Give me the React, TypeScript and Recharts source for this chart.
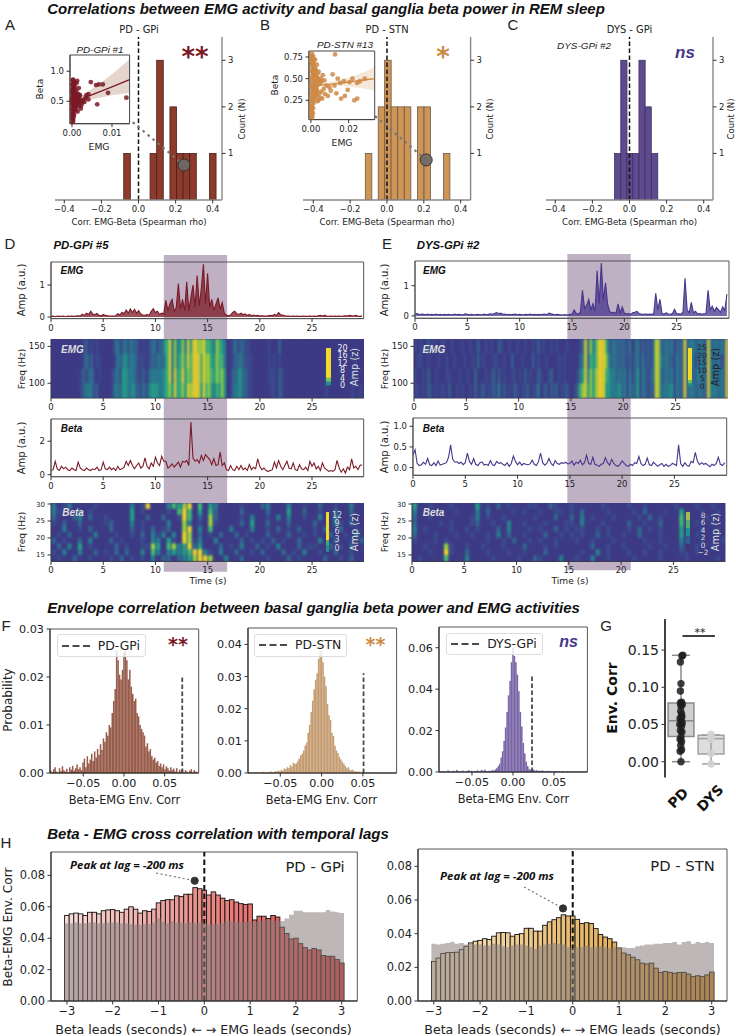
import React from 'react';
import {
  Area,
  Bar,
  BarChart,
  ComposedChart,
  Line,
  ReferenceArea,
  ReferenceDot,
  ReferenceLine,
  Scatter,
  XAxis,
  YAxis,
} from 'recharts';

// ---- panels A-C: correlation histograms
const histPdGpiX = [-0.062, 0.08, 0.1155, 0.187, 0.2225, 0.258, 0.2935, 0.4];
const histPdGpiN = [1, 1, 3, 2, 1, 1, 1, 1];
const histPdStnX = [-0.1, -0.03, 0.005, 0.04, 0.076, 0.112, 0.183, 0.219, 0.324];
const histPdStnN = [1, 2, 3, 2, 2, 2, 2, 2, 1];
const histDysX = [-0.0646, -0.031, 0.002, 0.034, 0.067, 0.1, 0.135];
const histDysN = [1, 3, 1, 1, 3, 2, 1];

// insets: one recording of each group
const insetGpiX = [.0001,.0002,.0003,.0001,.0002,.0004,.0001,.0003,.0002,.0005,.0001,.0004,.0002,.0006,.0003,.0001,.0005,.0002,.0007,.0003,.0001,.0004,.0008,.0002,.0006,.0003,.0009,.0005,.0001,.0011,.0004,.0007,.0002,.0012,.0006,.0015,.0009,.0003,.0013,.0018,.0008,.0011,.0021,.0016,.0025,.0019,.0013,.0028,.0023,.0017,.0031,.0036,.0041,.0034,.0047,.0063,.0067,.0077,.006,.009,.0041,.0136,.0009,.0014,.0022,.0005,.0002,.0004,.0006,.0003,.0008,.0001,.0005,.001,.0007,.0012,.0015,.0002,.0009,.0004,.0017,.0006,.002,.0011,.0003,.0014];
const insetGpiY = [.14,.2,.17,.26,.31,.24,.36,.29,.4,.34,.45,.38,.5,.42,.47,.55,.52,.6,.46,.58,.65,.63,.41,.7,.55,.73,.49,.67,.78,.44,.8,.59,.85,.51,.76,.47,.62,.86,.57,.52,.71,.8,.5,.62,.47,.58,.84,.52,.43,.72,.49,.6,.53,.56,.82,.45,.78,.78,.77,.64,.62,.56,.37,.33,.38,.27,.22,.33,.39,.48,.36,.52,.56,.43,.62,.6,.55,.68,.54,.72,.42,.82,.6,.67,.77,.48];
const insetStnX = [.0003,.0005,.0008,.0002,.0006,.001,.0004,.0012,.0007,.0003,.0009,.0015,.0005,.0011,.0002,.0018,.0008,.0013,.0004,.0021,.0006,.0016,.001,.0025,.0003,.0012,.0019,.0007,.0028,.0014,.0009,.0023,.0005,.0032,.0017,.0011,.0036,.0021,.0008,.004,.0026,.0013,.0045,.003,.0006,.005,.0034,.0018,.0055,.0039,.006,.0046,.0024,.0068,.0052,.0075,.0032,.0082,.0063,.009,.0041,.0098,.0072,.0105,.0125,.0142,.0115,.0135,.0155,.0175,.0195,.018,.016,.0205,.022,.0245,.026,.0285,.0245,.023,.0128,.0015,.001,.0022,.0005,.0002,.0004,.0006,.0008,.0003,.001,.0012,.0005,.0015,.0007,.0018,.0009,.0004,.002,.0011,.0006,.0024,.0014,.0002,.0028,.0017,.0008,.0032,.0021,.0005,.0036,.0012,.0026,.0042,.0016,.0035,.0048,.0022,.0058,.003];
const insetStnY = [.04,.08,.06,.14,.12,.1,.2,.16,.24,.3,.28,.22,.36,.33,.42,.29,.46,.39,.52,.34,.58,.44,.64,.38,.7,.55,.47,.76,.32,.62,.72,.42,.8,.36,.55,.67,.3,.49,.74,.25,.44,.6,.33,.52,.7,.28,.42,.62,.35,.5,.27,.44,.6,.38,.5,.32,.66,.42,.54,.3,.58,.4,.48,.36,.42,.5,.55,.33,.45,.47,.37,.3,.27,.46,.5,.45,.47,.5,.27,.25,.78,.68,.58,.72,.5,.1,.16,.18,.26,.26,.33,.38,.4,.48,.44,.52,.5,.6,.56,.58,.66,.6,.66,.75,.52,.72,.68,.46,.62,.74,.56,.76,.36,.48,.32,.24,.45,.27,.47,.38];
const fitGpiX = [0, 0.002, 0.004, 0.007, 0.01, 0.0144];
const fitGpiY = [0.47, 0.52, 0.58, 0.66, 0.74, 0.86];
const fitGpiLo = [0.44, 0.49, 0.52, 0.56, 0.6, 0.64];
const fitGpiHi = [0.5, 0.56, 0.66, 0.8, 0.95, 1.2];
const fitStnX = [0, 0.005, 0.012, 0.02, 0.03, 0.034];
const fitStnY = [0.41, 0.425, 0.44, 0.46, 0.49, 0.5];
const fitStnLo = [0.39, 0.41, 0.42, 0.41, 0.38, 0.36];
const fitStnHi = [0.43, 0.44, 0.47, 0.51, 0.59, 0.64];

// ---- panels D, E: traces sampled every 0.2 s
const emgPd = [
  .02,.03,.01,.03,.02,.02,.03,.01,.03,.02,.03,.02,.03,.04,.03,
  .09,.05,.12,.08,.18,.09,.07,.11,.05,.03,.08,.05,.04,.03,.03,
  .03,.04,.1,.06,.15,.1,.22,.12,.25,.14,.24,.12,.2,.09,.06,
  .05,.08,.05,.18,.26,.14,.18,.08,.12,.1,.52,.2,.42,.55,.18,
  .3,1.05,.25,.55,.2,1.1,.2,.6,1,.3,1.3,.35,.9,1.65,.4,
  1.37,.3,.55,.2,.4,.6,.25,.45,.12,.06,.03,.06,.14,.18,.1,
  .08,.12,.07,.1,.05,.08,.04,.06,.04,.05,.03,.04,.03,.03,.04,
  .05,.04,.08,.05,.14,.07,.06,.04,.03,.03,.02,.03,.02,.03,.02,
  .02,.03,.02,.02,.03,.02,.03,.02,.04,.05,.03,.05,.03,.02,.03,
  .02,.03,.02,.03,.02,.03,.04,.03,.05,.04,.03,.05,.03,.02,.03,
];
const emgDys = [
  .05,.08,.04,.06,.05,.04,.06,.04,.05,.04,.06,.04,.05,.04,.05,
  .04,.05,.04,.04,.06,.04,.05,.04,.04,.07,.05,.04,.05,.04,.04,
  .05,.04,.04,.06,.04,.05,.07,.05,.08,.11,.07,.09,.05,.06,.04,
  .05,.04,.05,.06,.04,.05,.04,.04,.05,.04,.06,.04,.05,.04,.05,
  .04,.05,.06,.04,.09,.07,.05,.04,.05,.04,.03,.04,.04,.03,.05,
  .05,.2,.08,.06,.12,.85,.25,.35,.55,.2,.4,.15,1.5,.4,1.75,
  .5,1.1,.4,.15,.1,.12,.08,.4,.1,.3,.1,.06,.08,.05,.1,
  .12,.15,.08,.06,.05,.06,.05,.05,.06,.05,.75,.2,.55,.08,.06,
  .1,.06,.05,.08,.22,.06,.07,.06,.12,1.25,.2,.1,.45,.1,.15,
  .06,.08,.05,.07,.08,.85,.2,.32,.15,.28,.2,.12,.3,.18,.72,
];
const betaPd = [
  .25,.3,.8,.35,.25,.5,.35,.45,.3,.25,.4,.3,.25,.75,.4,
  .3,.25,.4,.3,.25,.35,.3,.45,.25,.3,.75,.35,.3,.45,.3,
  .4,.25,.5,.3,.35,.45,.8,.55,.85,.55,.35,.55,.7,.4,.5,
  1,.5,.35,.7,.5,1.05,.7,.55,1.1,.8,.8,.4,.5,.65,.45,
  .6,.75,.45,.8,.75,.85,.55,3.15,1,.8,.9,.7,1.15,.85,1.2,
  1.05,.9,.6,.95,.55,.6,1.35,.55,.7,.3,.25,.55,.3,.25,.5,
  .3,.55,.3,.4,.25,.6,.3,.45,.35,.95,.5,.3,.4,.25,.2,
  .25,.3,.75,.4,.85,.5,.3,.55,.8,.4,.35,.7,.3,.25,.6,
  .35,.3,.45,.25,.8,.5,.7,.35,.5,.25,.7,.4,.3,.2,.25,
  .2,.3,.85,.4,.15,.35,.1,.45,.3,.95,.4,.5,.3,.55,.6,
];
const betaDys = [
  .3,.43,.1,.05,.07,.13,.08,.22,.07,.05,.12,.05,.16,.06,.08,
  .1,.12,.25,.55,.2,.13,.14,.1,.13,.07,.12,.35,.15,.08,.22,
  .08,.05,.12,.14,.06,.08,.05,.17,.07,.05,.15,.1,.12,.08,.05,
  .12,.03,.1,.28,.15,.07,.13,.06,.1,.08,.07,.09,.18,.08,.05,
  .15,.35,.12,.06,.1,.22,.1,.05,.17,.1,.08,.12,.1,.13,.09,
  .1,.16,.06,.13,.1,.18,.07,.12,.3,.1,.08,.25,.08,.06,.03,
  .08,.1,.24,.12,.06,.2,.1,.05,.03,.08,.16,.1,.05,.03,.08,
  .05,.12,.1,.27,.1,.05,.08,.23,.07,.05,.13,.08,.03,.07,.1,
  .03,.08,.03,.05,.1,.08,.05,.55,.1,.03,.12,.05,.03,.15,.12,
  .37,.15,.07,.12,.08,.1,.06,.02,.08,.05,.1,.25,.08,.05,.12,
];

// spectrograms: a digit is the colour level of one cell, a string is one frequency row
const emgFreqs = [150, 130, 110, 90];
const emgSpecPd = [
  '000000000000120101000000231231322101012312245736346374776675543654300131221100000001000200000000000000000000000000000000',
  '000000000000131201100000132342332111012223235736356475777576644655300122321110000001010100000000000000000000000000001000',
  '000000000001212310100001231443332112023333345737457465777576654656400223422110000001110210000000000000000100000000010000',
  '000000000001233312000001332443342213134443345647456476777475643546400233422110000000110210000000000000000100000000010010',
];
const emgSpecDys = [
  '101002010011001000100100200101002100100100100102010010100010000127263577752232222130231212137622323122272332232273232327',
  '011001000100100100010010201000110010020001000201001000010100000237254577763232222121231312137632322132272331232273223127',
  '100102001000110001001002000101202010011010201002100120010100001347364677754332323131241321237622323132272322332273232327',
  '110102101011020010100102012011213020102101120113012021201120012567464677744333423132241321227623334132272332232273332327',
];
const betaFreqs = [29.4, 27.7, 26, 24.3, 22.6, 20.9, 19.2, 17.5, 15.8, 14];
const betaSpecPd = [
  '301300001000000301700035467050430000100023000300100200100300',
  '310002010000000401000010575040520000200002000400200100200200',
  '200023020010000400200200175020620000103001030300100300300100',
  '102002000012000301000030063010610000204002000200002000310200',
  '003001020002000201020120067030500030003001020102001020020010',
  '010200003000100102031303076020102002010002000200101002001030',
  '201002030002010001033041076130030000201010201002000300200102',
  '020304010000201001164056347240002010300201030002011002010200',
  '103003002010202003053034345773103002001020002010300100200100',
  '010020010001020101030220234677600300200001000201000020010200',
];
const betaSpecDys = [
  '400100010000401020100011002100100000100001001000001000100100',
  '300010001000302000010100100110102000010000102000100400010010',
  '200100000001301001000001000200203010001000010201000510001000',
  '200001010001200100300100010001103000100002001002000510100100',
  '301000010010100020300010100201011001010001020101000400010010',
  '200010001001001030200100020010101002010010020001000410100010',
  '100010100000001001020010100100010010001000001001000310010001',
  '001000610010010001000200010100000020010010000100100200100100',
  '000100710020001000100100020000001003010001001001000110100000',
  '010000500030000100001002100030010030010000100001000010000010',
];
const heatPalette = ['#3d3a85', '#3a4c8d', '#31688e', '#26828e', '#21a585', '#44bf70', '#9bd93c', '#f2dd26'];

// colour bars drawn over the spectrograms, bottom to top
const barEmgPd = [2, 2, 16];
const barEmgPdColors = ['#21908c', '#6cc35c', '#f2dd26'];
const barBetaPd = [2, 1.5, 8.5];
const barBetaPdColors = ['#21908c', '#35b07a', '#f2dd26'];
const barEmgDys = [2, 2, 21];
const barEmgDysColors = ['#21908c', '#6cc35c', '#f2dd26'];
const barBetaDys = [2, 2, 2, 2, 2];
const barBetaDysColors = ['#3a3a78', '#2f5f8e', '#21908c', '#4fae6a', '#a0c24a'];

// ---- panel F: surrogate histograms, in units of 1e-4, bin width 0.0018 from -0.09
const surrPdGpi = [
  5,0,8,12,3,0,10,4,14,6,3,9,0,12,7,15,5,10,18,8,12,6,22,
  30,12,35,20,28,40,25,45,32,50,38,60,48,72,65,85,78,100,95,
  125,150,175,255,235,205,195,215,250,255,235,195,215,180,165,150,155,125,118,
  100,92,85,78,55,62,45,50,35,28,32,22,25,15,20,12,18,8,14,10,5,12,6,9,3,10,0,7,4,8,0,6,3,0,5,8,0,6,3,0,
];
const surrPdStn = [
  0,0,1,0,2,0,1,3,0,2,1,4,0,2,3,1,5,2,3,6,4,8,5,
  10,7,14,12,18,15,25,20,32,28,30,38,45,55,60,70,85,95,
  125,150,190,225,260,290,310,355,405,380,345,300,270,215,180,165,125,115,85,
  70,62,50,42,35,28,22,15,18,10,8,10,5,6,3,5,2,4,1,3,1,2,0,3,1,0,2,1,0,2,0,1,0,1,0,0,0,0,0,0,
];
const surrDys = [
  0,3,0,5,1,0,8,2,0,4,6,0,10,3,0,2,7,0,1,5,9,2,6,
  0,4,3,8,2,6,10,4,12,5,4,6,5,9,7,12,18,28,40,
  70,100,150,215,290,370,440,530,600,560,530,470,390,290,220,140,90,50,28,
  15,10,8,12,6,9,5,7,4,8,3,5,2,6,3,4,1,3,5,1,3,0,2,4,1,0,3,1,0,2,0,1,2,0,1,0,1,0,0,1,
];

// ---- panel G: recordings per group
const gPdY = [.143,.142,.134,.105,.095,.08,.079,.077,.075,.068,.064,.06,.058,.055,.052,.05,.048,.042,.04,.033,.03,.027,.022,.016,.014,0];
const gPdJitter = [1.06,1.03,.98,1,.98,1.02,.98,1.04,1,.99,1.02,1.03,.97,1,1.04,.96,1.02,.98,1.03,1,.97,1.02,.99,1.02,.97,1];
const gDysY = [.037, .033, .03, .011, -.003];
const gPdBox = { lo: 0, q1: .034, med: .055, q3: .0788, hi: .143 };
const gDysBox = { lo: -.003, q1: .0103, med: .031, q3: .0354, hi: .036 };

// ---- panel H: cross correlation by lag
const lags = [-3,-2.9,-2.8,-2.7,-2.6,-2.5,-2.4,-2.3,-2.2,-2.1,-2,-1.9,-1.8,-1.7,-1.6,-1.5,-1.4,-1.3,-1.2,-1.1,-1,-.9,-.8,-.7,-.6,-.5,-.4,-.3,-.2,-.1,0,.1,.2,.3,.4,.5,.6,.7,.8,.9,1,1.1,1.2,1.3,1.4,1.5,1.6,1.7,1.8,1.9,2,2.1,2.2,2.3,2.4,2.5,2.6,2.7,2.8,2.9,3];
const lagGpi = [
  .0545,.0555,.056,.0555,.0545,.0565,.0565,.0555,.0575,.058,
  .0582,.0575,.0565,.0585,.06,.0585,.056,.0575,.057,.0585,
  .0625,.064,.0645,.0645,.067,.0665,.068,.068,.0722,.0715,
  .0705,.0675,.0695,.0675,.0655,.064,.0645,.063,.062,.0615,
  .0618,.0516,.054,.054,.0525,.0545,.0535,.047,.043,.0395,
  .04,.0365,.034,.0325,.0335,.0325,.029,.0285,.0285,.0265,.0242,
];
const lagGpiSurr = [
  .0495,.0495,.05,.0495,.0495,.05,.05,.0495,.0495,.05,
  .05,.05,.0495,.0495,.049,.0485,.0485,.049,.049,.05,
  .0525,.0505,.0495,.051,.05,.05,.0495,.05,.0495,.05,
  .0495,.0485,.049,.049,.0495,.051,.051,.0505,.05,.0505,
  .051,.0505,.051,.0515,.052,.0515,.051,.051,.0525,.055,
  .0575,.0575,.0565,.0565,.0565,.0565,.0565,.058,.057,.0565,.056,
];
const lagStn = [
  .0235,.0255,.0282,.0287,.0288,.029,.0305,.0325,.0345,.0355,
  .036,.037,.0365,.0385,.0405,.0407,.0405,.0385,.0395,.04,
  .0432,.0432,.0415,.0415,.045,.047,.0483,.0495,.0512,.0505,
  .0505,.0485,.046,.0465,.046,.043,.0395,.038,.037,.035,
  .0315,.0285,.0275,.026,.0245,.0225,.022,.0225,.0195,.017,
  .0175,.017,.0165,.017,.017,.016,.0145,.015,.0145,.0155,.0172,
];
const lagStnSurr = [
  .034,.0335,.034,.0345,.035,.034,.0345,.0335,.034,.0335,
  .0335,.033,.033,.034,.0335,.0325,.032,.033,.0335,.0335,
  .033,.032,.031,.033,.0335,.034,.0345,.034,.0335,.032,
  .0315,.032,.032,.033,.032,.032,.0325,.032,.0315,.032,
  .0315,.032,.0315,.0315,.0325,.033,.0335,.0335,.034,.034,
  .0345,.0345,.035,.0335,.035,.0355,.034,.035,.0345,.035,.0345,
];

const MAROON = '#7a1a26';
const ORANGE = '#cc8a46';
const INDIGO = '#46368c';
const SPINE = '#555';
const ARIAL = '"Liberation Sans", Arial, sans-serif';

const zip = (xs: number[], ys: number[]) => xs.map((x, i) => ({ x, y: ys[i] }));
const traceData = (vals: number[]) => vals.map((y, i) => ({ x: i * 0.2, y }));
const surrData = (vals: number[]) => vals.map((v, i) => ({ x: -0.09 + i * 0.0018, y: v / 10000 }));
const heatCells = (rows: string[], freqs: number[], step: number) =>
  rows.flatMap((row, r) => row.split('').map((c, i) => ({ x: (i + 0.5) * step, y: freqs[r], level: +c })));
const minusFmt = (d: number) => (v: number) => v.toFixed(d).replace('-', '\u2212');
const intFmt = (v: number) => String(v).replace('-', '\u2212');

const mix = (a: string, b: string, t: number) => {
  const ch = (h: string, i: number) => parseInt(h.slice(1 + i * 2, 3 + i * 2), 16);
  const out = [0, 1, 2].map((i) => Math.round(ch(a, i) + (ch(b, i) - ch(a, i)) * t));
  return `rgb(${out.join(',')})`;
};

// bars keep the scale's centre and height, the bin width is given in pixels
const binShape = (binPx: number, fill: any, stroke?: string, strokeWidth = 0, fillOpacity = 1) => (p: any) => (
  <rect
    x={p.x + p.width / 2 - binPx / 2}
    y={p.y}
    width={binPx}
    height={Math.max(p.height, 0)}
    fill={typeof fill === 'function' ? fill(p.payload) : fill}
    fillOpacity={fillOpacity}
    stroke={stroke}
    strokeWidth={strokeWidth}
  />
);

const PAD_L = 46;
const PAD_R = 30;
const PAD_T = 6;
const PAD_B = 24;

const Plot = ({
  x, y, w, h, xDomain, yDomain, xTicks, yTicks, xFmt, yFmt,
  xSize = 8.5, ySize = 8.5, yRight = false, frame, axisColor = SPINE, axisWidth = 1, noBottom = false, data, children,
}: any) => (
  <div style={{ position: 'absolute', left: x - PAD_L, top: y - PAD_T }}>
    <ComposedChart
      width={w + PAD_L + PAD_R}
      height={h + PAD_T + PAD_B}
      data={data}
      margin={{ top: PAD_T, right: yRight ? 0 : PAD_R, bottom: 0, left: yRight ? PAD_L : 0 }}
    >
      <XAxis
        type="number"
        dataKey="x"
        domain={xDomain}
        allowDataOverflow
        ticks={xTicks}
        interval={0}
        height={PAD_B}
        tickFormatter={xFmt}
        tick={xTicks ? { fontSize: xSize, fill: '#222' } : false}
        tickLine={xTicks ? { stroke: '#333' } : false}
        tickSize={3.5}
        tickMargin={2.5}
        axisLine={noBottom ? false : { stroke: axisColor, strokeWidth: axisWidth }}
      />
      <YAxis
        type="number"
        dataKey="y"
        orientation={yRight ? 'right' : 'left'}
        domain={yDomain}
        allowDataOverflow
        ticks={yTicks}
        interval={0}
        width={yRight ? PAD_R : PAD_L}
        tickFormatter={yFmt}
        tick={yTicks ? { fontSize: ySize, fill: '#222' } : false}
        tickLine={yTicks ? { stroke: '#333' } : false}
        tickSize={3.5}
        tickMargin={2.5}
        axisLine={{ stroke: axisColor, strokeWidth: axisWidth }}
      />
      {children}
      {frame && (
        <ReferenceArea
          x1={xDomain[0]} x2={xDomain[1]} y1={yDomain[0]} y2={yDomain[1]}
          fill="none" stroke={frame} strokeWidth={1} ifOverflow="visible"
        />
      )}
    </ComposedChart>
  </div>
);

const Txt = ({ x, y, children, size = 8.4, rot = 0, color = '#222', bold = false, italic = false, font }: any) => (
  <div
    style={{
      position: 'absolute', left: x, top: y, transform: `translate(-50%,-50%) rotate(${rot}deg)`,
      fontSize: size, color, whiteSpace: 'nowrap', lineHeight: 1,
      fontWeight: bold ? 700 : 400, fontStyle: italic ? 'italic' : 'normal', fontFamily: font,
    }}
  >
    {children}
  </div>
);

const Stars = ({ x, y, n, color, size = 26 }: any) => (
  <Txt x={x} y={y + size * 0.16} size={size} color={color} bold font='"DejaVu Sans"'>{'*'.repeat(n)}</Txt>
);

const CorrHist = ({ x, w, xs, ns, binPx, fill, edge, point, domain }: any) => (
  <Plot
    x={x} y={37} w={w} h={163} yRight data={zip(xs, ns)}
    xDomain={domain} yDomain={[0, 3.5]} xTicks={[-0.4, -0.2, 0, 0.2, 0.4]} yTicks={[1, 2, 3]}
    xFmt={minusFmt(1)} axisColor="#888" axisWidth={1.4}
  >
    <Bar dataKey="y" shape={binShape(binPx, fill, edge, 0.8)} isAnimationActive={false} />
    <ReferenceLine x={0} stroke="#111" strokeWidth={1.5} strokeDasharray="4.5 2.5" />
    {point && (
      <Line data={point.link} dataKey="y" stroke="#777" strokeWidth={2.2} strokeDasharray="2.5 4" dot={false} isAnimationActive={false} />
    )}
    {point && <ReferenceDot x={point.x} y={point.y} r={6} fill="#6d6a68" fillOpacity={0.9} stroke="#333" />}
  </Plot>
);

const Inset = ({ x, y, w, h, xDomain, yDomain, xTicks, yTicks, xd, yd, points, fit, lo, hi, fitX, color, band }: any) => (
  <Plot
    x={x} y={y} w={w} h={h} xDomain={xDomain} yDomain={yDomain} xTicks={xTicks} yTicks={yTicks}
    xFmt={minusFmt(xd)} yFmt={minusFmt(yd)} frame="#444" axisColor="#444"
  >
    <ReferenceArea x1={xDomain[0]} x2={xDomain[1]} y1={yDomain[0]} y2={yDomain[1]} fill="#fff" fillOpacity={1} />
    <Area
      data={fitX.map((v: number, i: number) => ({ x: v, band: [lo[i], hi[i]] }))}
      dataKey="band" type="linear" stroke="none" fill={band} fillOpacity={0.75} isAnimationActive={false}
    />
    <Scatter
      data={points} isAnimationActive={false}
      shape={(p: any) => <circle cx={p.cx} cy={p.cy} r={2.4} fill={color} fillOpacity={0.85} />}
    />
    <Line data={zip(fitX, fit)} dataKey="y" stroke={color} strokeWidth={1.3} dot={false} isAnimationActive={false} />
  </Plot>
);

const Shade = ({ x, y, w, h, xMax, from, to }: any) => (
  <Plot x={x} y={y} w={w} h={h} xDomain={[0, xMax]} yDomain={[0, 1]} axisColor="none">
    <ReferenceArea x1={from} x2={to} y1={0} y2={1} fill="#bfb0c4" fillOpacity={1} />
  </Plot>
);

const Trace = ({ x, y, w, h, xMax, yDomain, yTicks, yFmt, vals, color, sw = 1.1, filled = false }: any) => (
  <Plot
    x={x} y={y} w={w} h={h} xDomain={[0, xMax]} yDomain={yDomain}
    xTicks={[0, 5, 10, 15, 20, 25]} yTicks={yTicks} yFmt={yFmt} frame={SPINE}
  >
    {filled && (
      <Area data={traceData(vals)} dataKey="y" type="linear" stroke="none" fill={color} fillOpacity={0.75} isAnimationActive={false} />
    )}
    <Line data={traceData(vals)} dataKey="y" stroke={color} strokeWidth={sw} dot={false} isAnimationActive={false} />
  </Plot>
);

const Heat = ({ x, y, w, h, xMax, yDomain, yTicks, rows, freqs, step, rowPx, ySize, narrow = 1 }: any) => {
  const colPx = (w / xMax) * step;
  return (
    <div className="hm">
      <Plot
        x={x} y={y} w={w} h={h} xDomain={[0, xMax]} yDomain={yDomain}
        xTicks={[0, 5, 10, 15, 20, 25]} yTicks={yTicks} ySize={ySize} axisColor="#333"
      >
        <ReferenceArea x1={0} x2={xMax} y1={yDomain[0]} y2={yDomain[1]} fill={heatPalette[0]} fillOpacity={1} />
        <Scatter
          data={heatCells(rows, freqs, step)} isAnimationActive={false}
          shape={(p: any) => (
            <rect
              x={p.cx - (colPx * narrow) / 2} y={p.cy - rowPx / 2} width={colPx * narrow + 0.4} height={rowPx + 0.4}
              fill={heatPalette[p.payload.level]}
            />
          )}
        />
      </Plot>
    </div>
  );
};

const ColorBar = ({ x, y, w, h, segs, colors }: any) => {
  const row: any = { name: 'z' };
  segs.forEach((v: number, i: number) => { row[`s${i}`] = v; });
  const total = segs.reduce((a: number, b: number) => a + b, 0);
  return (
    <div style={{ position: 'absolute', left: x, top: y }}>
      <BarChart width={w} height={h} data={[row]} margin={{ top: 0, right: 0, bottom: 0, left: 0 }} barCategoryGap={0}>
        <XAxis dataKey="name" hide />
        <YAxis hide domain={[0, total]} />
        {segs.map((_: number, i: number) => (
          <Bar key={i} dataKey={`s${i}`} stackId="z" fill={colors[i]} isAnimationActive={false} />
        ))}
      </BarChart>
    </div>
  );
};

const barLabels = (labels: string[], x: number, y0: number, dy: number, color: string, size = 8) =>
  labels.map((t, i) => <Txt key={t + i} x={x} y={y0 + i * dy} size={size} color={color}>{t}</Txt>);

const SurrHist = ({ x, y, w, h, vals, xDomain, yDomain, yTicks, fill, cut, cutTop, name, lx, lw, ly, lh }: any) => (
  <>
    <Plot
      x={x} y={y} w={w} h={h} data={surrData(vals)} xDomain={xDomain} yDomain={yDomain}
      xTicks={[-0.05, 0, 0.05]} yTicks={yTicks} xFmt={minusFmt(2)} yFmt={minusFmt(2)}
      xSize={11.2} ySize={11.2} frame={SPINE} axisColor="#222"
    >
      <Bar dataKey="y" shape={binShape(1.5, fill, undefined, 0, 0.88)} isAnimationActive={false} />
      <Line
        data={[{ x: cut, y: 0 }, { x: cut, y: cutTop }]} dataKey="y"
        stroke="#4a4a4a" strokeWidth={1.8} strokeDasharray="4.5 2.5" dot={false} isAnimationActive={false}
      />
    </Plot>
    <div
      style={{
        position: 'absolute', left: lx, top: ly, width: lw, height: lh, boxSizing: 'border-box',
        background: 'rgba(255,255,255,0.8)', border: '1px solid #ddd', borderRadius: 3,
      }}
    >
      <svg width={30} height={6} style={{ position: 'absolute', left: 4, top: lh / 2 - 4 }}>
        <line x1={0} x2={28} y1={3} y2={3} stroke="#4a4a4a" strokeWidth={1.8} strokeDasharray="7 3.5" />
      </svg>
      <div style={{ position: 'absolute', right: 5, top: lh / 2 - 8, fontSize: 12.4, lineHeight: '14px', color: '#222' }}>{name}</div>
    </div>
  </>
);

const LagHist = ({ x, y, w, h, vals, surr, yDomain, light, strong, dot, from, xDomain }: any) => (
  <Plot
    x={x} y={y} w={w} h={h} data={zip(lags, vals)} xDomain={xDomain} yDomain={yDomain}
    xTicks={[-3, -2, -1, 0, 1, 2, 3]} yTicks={[0, 0.02, 0.04, 0.06, 0.08]} xFmt={intFmt} yFmt={minusFmt(2)}
    xSize={11.4} ySize={11.4} frame={SPINE} axisColor="#222"
  >
    <Bar
      dataKey="y" isAnimationActive={false}
      shape={binShape(4.58, (d: any) => mix(light, strong, (d.x + 3) / 6), '#111', 0.9)}
    />
    <ReferenceLine x={0} stroke="#111" strokeWidth={2} strokeDasharray="5.5 3" />
    <Area
      data={[...surr.map((v: number, i: number) => ({ x: lags[i] - 0.05, y: v })), { x: 3.05, y: surr[surr.length - 1] }]}
      dataKey="y" type="stepAfter" stroke="none" fill="#877c7c" fillOpacity={0.55} zIndex={450} isAnimationActive={false}
    />
    <Line data={[from, dot]} dataKey="y" stroke="#777" strokeWidth={1.2} strokeDasharray="2 2.5" dot={false} isAnimationActive={false} />
    <ReferenceDot x={dot.x} y={dot.y} r={3.6} fill="#333" stroke="#333" />
  </Plot>
);

const BoxGlyph = ({ at, box, edge, fill, half }: any) => [
  <ReferenceLine key="w" segment={[{ x: at, y: box.lo }, { x: at, y: box.hi }]} stroke={edge} strokeWidth={1.5} />,
  <ReferenceLine key="c1" segment={[{ x: at - 0.3, y: box.lo }, { x: at + 0.3, y: box.lo }]} stroke={edge} strokeWidth={1.5} />,
  <ReferenceLine key="c2" segment={[{ x: at - 0.3, y: box.hi }, { x: at + 0.3, y: box.hi }]} stroke={edge} strokeWidth={1.5} />,
  <ReferenceArea key="b" x1={at - half} x2={at + half} y1={box.q1} y2={box.q3} fill={fill} fillOpacity={1} stroke={edge} strokeWidth={1.5} />,
  <ReferenceLine key="m" segment={[{ x: at - half, y: box.med }, { x: at + half, y: box.med }]} stroke={edge} strokeWidth={1.5} />,
];

export default function App() {
  const bi = { bold: true, italic: true, font: ARIAL };
  return (
    <div
      style={{
        position: 'absolute', left: 0, top: 0, width: 736, height: 1036, overflow: 'hidden',
        background: '#fff', fontFamily: '"DejaVu Sans", sans-serif',
      }}
    >
      <style>{'.hm .recharts-scatter{filter:blur(1.1px)}'}</style>

      <Txt x={326} y={7.6} size={15} color="#111" {...bi}>
        Correlations between EMG activity and basal ganglia beta power in REM sleep
      </Txt>
      <Txt x={10} y={24} size={15} font={ARIAL}>A</Txt>
      <Txt x={265} y={24} size={15} font={ARIAL}>B</Txt>
      <Txt x={513} y={24} size={15} font={ARIAL}>C</Txt>

      <CorrHist
        x={55} w={167} xs={histPdGpiX} ns={histPdGpiN} binPx={6.6} fill="#8b3a2b" edge="#4a2018" domain={[-0.45, 0.45]}
        point={{ x: 0.245, y: 0.75, link: [{ x: -0.085, y: 1.85 }, { x: 0.245, y: 0.75 }] }}
      />
      <CorrHist
        x={302.7} w={167.6} xs={histPdStnX} ns={histPdStnN} binPx={6.5} fill="#cf9557" edge="#6b5a45" domain={[-0.456, 0.454]}
        point={{ x: 0.213, y: 0.86, link: [{ x: -0.065, y: 1.8 }, { x: 0.213, y: 0.86 }] }}
      />
      <CorrHist x={545.7} w={167} xs={histDysX} ns={histDysN} binPx={6.2} fill="#5e4a8e" edge="#3d3160" domain={[-0.45, 0.45]} />

      <Inset
        x={69.7} y={55} w={59.6} h={68.7} xDomain={[-0.0005, 0.0144]} yDomain={[0.127, 1.27]}
        xTicks={[0, 0.01]} yTicks={[0.5, 1]} xd={2} yd={1} points={zip(insetGpiX, insetGpiY)}
        fitX={fitGpiX} fit={fitGpiY} lo={fitGpiLo} hi={fitGpiHi} color={MAROON} band="#dcc8bc"
      />
      <Inset
        x={309.3} y={50.7} w={65.7} h={68.6} xDomain={[-0.001, 0.0338]} yDomain={[0.027, 0.819]}
        xTicks={[0, 0.02]} yTicks={[0.25, 0.5, 0.75]} xd={2} yd={2} points={zip(insetStnX, insetStnY)}
        fitX={fitStnX} fit={fitStnY} lo={fitStnLo} hi={fitStnHi} color={ORANGE} band="#f2e0cc"
      />

      <Txt x={139} y={29.5} size={9.9}>PD - GPi</Txt>
      <Txt x={387} y={29.5} size={9.9}>PD - STN</Txt>
      <Txt x={629.5} y={29.5} size={9.9}>DYS - GPi</Txt>
      <Txt x={100} y={50} size={9.9} italic font={ARIAL}>PD-GPi #1</Txt>
      <Txt x={345} y={45} size={9.9} italic font={ARIAL}>PD-STN #13</Txt>
      <Txt x={584} y={45.5} size={9.9} italic font={ARIAL}>DYS-GPi #2</Txt>
      <Txt x={99} y={146.5} size={9.2}>EMG</Txt>
      <Txt x={342} y={142.5} size={9.2}>EMG</Txt>
      <Txt x={40} y={89} size={9} rot={-90}>Beta</Txt>
      <Txt x={274.5} y={85} size={9} rot={-90}>Beta</Txt>
      <Txt x={139} y={221.5} size={8.6}>Corr. EMG-Beta (Spearman rho)</Txt>
      <Txt x={387} y={221.5} size={8.6}>Corr. EMG-Beta (Spearman rho)</Txt>
      <Txt x={629.5} y={221.5} size={8.6}>Corr. EMG-Beta (Spearman rho)</Txt>
      <Txt x={241.5} y={119} size={8.5} rot={-90}>Count (N)</Txt>
      <Txt x={489.5} y={119} size={8.5} rot={-90}>Count (N)</Txt>
      <Txt x={730.5} y={119} size={8.5} rot={-90}>Count (N)</Txt>
      <Stars x={195} y={53} n={2} color={MAROON} />
      <Stars x={443} y={53} n={1} color={ORANGE} />
      <Txt x={685} y={52} size={17} color={INDIGO} {...bi}>ns</Txt>

      {/* panels D, E */}
      <Txt x={10} y={243} size={15} font={ARIAL}>D</Txt>
      <Txt x={387} y={243} size={15} font={ARIAL}>E</Txt>
      <Txt x={81} y={246} size={11.4} color="#111" {...bi}>PD-GPi #5</Txt>
      <Txt x={448} y={246} size={11.4} color="#111" {...bi}>DYS-GPi #2</Txt>

      <Shade x={50.5} y={255} w={313} h={316.7} xMax={29.97} from={10.8} to={16.87} />
      <Shade x={414.7} y={254} w={314} h={316.3} xMax={29.99} from={14.55} to={20.6} />

      <Trace x={50.5} y={261.7} w={312.7} h={56.6} xMax={29.95} yDomain={[-0.05, 1.72]} yTicks={[0, 1]} vals={emgPd} color={MAROON} filled />
      <Heat
        x={51} y={339.3} w={313} h={59} xMax={29.97} yDomain={[80, 160]} yTicks={[100, 150]}
        rows={emgSpecPd} freqs={emgFreqs} step={0.25} rowPx={14.75} narrow={0.75}
      />
      <Trace x={50.5} y={419} w={312.7} h={57.7} xMax={29.95} yDomain={[-0.12, 3.33]} yTicks={[0, 2]} vals={betaPd} color={MAROON} />
      <Heat
        x={51} y={503.3} w={313} h={58.4} xMax={29.97} yDomain={[13.1, 30.3]} yTicks={[15, 20, 25, 30]} ySize={7}
        rows={betaSpecPd} freqs={betaFreqs} step={0.5} rowPx={5.9} narrow={0.7}
      />

      <Trace x={414.7} y={261} w={314} h={57.3} xMax={30} yDomain={[-0.08, 1.82]} yTicks={[0, 1]} vals={emgDys} color={INDIGO} filled />
      <Heat
        x={413.7} y={339.3} w={313.6} h={59} xMax={29.97} yDomain={[80, 160]} yTicks={[100, 150]}
        rows={emgSpecDys} freqs={emgFreqs} step={0.25} rowPx={14.75} narrow={0.75}
      />
      <Trace
        x={413} y={417.7} w={313.7} h={57.3} xMax={30} yDomain={[-0.186, 1.2]} yTicks={[0, 0.5, 1]} yFmt={minusFmt(1)}
        vals={betaDys} color={INDIGO}
      />
      <Heat
        x={412.3} y={503.3} w={313.4} h={58.4} xMax={29.97} yDomain={[13.1, 30.3]} yTicks={[15, 20, 25, 30]} ySize={7}
        rows={betaSpecDys} freqs={betaFreqs} step={0.5} rowPx={5.9} narrow={0.7}
      />

      <ColorBar x={326.3} y={348.3} w={4.7} h={37.4} segs={barEmgPd} colors={barEmgPdColors} />
      <ColorBar x={326.3} y={511.7} w={3.4} h={40} segs={barBetaPd} colors={barBetaPdColors} />
      <ColorBar x={688} y={348.3} w={4.3} h={38.4} segs={barEmgDys} colors={barEmgDysColors} />
      <ColorBar x={686.3} y={511.7} w={3.7} h={40} segs={barBetaDys} colors={barBetaDysColors} />
      {barLabels(['20', '16', '12', '8', '4', '0'], 342.5, 348.5, 7.5, '#eee')}
      {barLabels(['12', '9', '6', '3', '0'], 337, 515.5, 8.3, '#ddd')}
      {barLabels(['25', '20', '15', '10', '5', '0'], 702, 348, 7.7, '#222', 7.4)}
      {barLabels(['8', '6', '4', '2', '0', '\u22122'], 703, 515.5, 7.5, '#ddd', 7.4)}
      <Txt x={355} y={367} rot={-90} color="#ddd" size={9.8}>Amp (z)</Txt>
      <Txt x={355} y={532} rot={-90} color="#ddd" size={9.8}>Amp (z)</Txt>
      <Txt x={716} y={367} rot={-90} size={9.8}>Amp (z)</Txt>
      <Txt x={716} y={532} rot={-90} color="#ddd" size={9.8}>Amp (z)</Txt>

      <Txt x={72} y={271} size={10} color="#111" {...bi}>EMG</Txt>
      <Txt x={72.5} y={350} size={10} color="#ddd" {...bi}>EMG</Txt>
      <Txt x={71.5} y={429} size={10} color="#111" {...bi}>Beta</Txt>
      <Txt x={73} y={513} size={10} color="#ddd" {...bi}>Beta</Txt>
      <Txt x={434.5} y={271} size={10} color="#111" {...bi}>EMG</Txt>
      <Txt x={434} y={349.5} size={10} color="#ddd" {...bi}>EMG</Txt>
      <Txt x={433.5} y={429} size={10} color="#111" {...bi}>Beta</Txt>
      <Txt x={433.5} y={513} size={10} color="#ddd" {...bi}>Beta</Txt>
      <Txt x={21.5} y={290} rot={-90} size={10}>Amp (a.u.)</Txt>
      <Txt x={21.5} y={368.5} rot={-90} size={9}>Freq (Hz)</Txt>
      <Txt x={21.5} y={447.5} rot={-90} size={10}>Amp (a.u.)</Txt>
      <Txt x={21.5} y={531.5} rot={-90} size={9}>Freq (Hz)</Txt>
      <Txt x={384.5} y={290} rot={-90} size={10}>Amp (a.u.)</Txt>
      <Txt x={384.5} y={368.5} rot={-90} size={9}>Freq (Hz)</Txt>
      <Txt x={384.5} y={447} rot={-90} size={10}>Amp (a.u.)</Txt>
      <Txt x={384.5} y={531.5} rot={-90} size={9}>Freq (Hz)</Txt>
      <Txt x={208} y={582} size={9.1}>Time (s)</Txt>
      <Txt x={570} y={582} size={9.1}>Time (s)</Txt>

      {/* panel F */}
      <Txt x={313.5} y={606.5} size={15} color="#111" {...bi}>
        Envelope correlation between basal ganglia beta power and EMG activities
      </Txt>
      <Txt x={6} y={625} size={15} font={ARIAL}>F</Txt>
      <SurrHist
        x={50} y={628.7} w={148.7} h={144} vals={surrPdGpi} xDomain={[-0.0909, 0.0918]} yDomain={[0, 0.03]}
        yTicks={[0, 0.01, 0.02, 0.03]} fill="#8a4632" cut={0.0716} cutTop={0.0203} name="PD-GPi"
        lx={56.7} lw={89.3} ly={634.3} lh={23}
      />
      <SurrHist
        x={247.7} y={627.7} w={148.6} h={145} vals={surrPdStn} xDomain={[-0.0891, 0.0908]} yDomain={[0, 0.0451]}
        yTicks={[0, 0.01, 0.02, 0.03, 0.04]} fill="#bd9060" cut={0.0508} cutTop={0.031} name="PD-STN"
        lx={254} lw={93.3} ly={634.3} lh={22.4}
      />
      <SurrHist
        x={439.3} y={626.7} w={148.4} h={145} vals={surrDys} xDomain={[-0.0902, 0.0907]} yDomain={[0, 0.07]}
        yTicks={[0, 0.02, 0.04, 0.06]} fill="#67509a" cut={0.0232} cutTop={0.047} name="DYS-GPi"
        lx={445.7} lw={97} ly={633.3} lh={22}
      />
      <Stars x={178} y={641} n={2} color={MAROON} size={19} />
      <Stars x={375.5} y={641} n={2} color={ORANGE} size={19} />
      <Txt x={568.5} y={642} size={16} color={INDIGO} {...bi}>ns</Txt>
      <Txt x={7.5} y={700} rot={-90} size={12}>Probability</Txt>
      <Txt x={124.5} y={801} size={11.4}>Beta-EMG Env. Corr</Txt>
      <Txt x={321.5} y={801} size={11.4}>Beta-EMG Env. Corr</Txt>
      <Txt x={513.5} y={800} size={11.4}>Beta-EMG Env. Corr</Txt>

      {/* panel G */}
      <Txt x={606} y={625} size={15} font={ARIAL}>G</Txt>
      <Plot
        x={664.7} y={619.3} w={62} h={158.4} xDomain={[0.467, 2.533]} yDomain={[-0.0211, 0.1918]}
        yTicks={[0, 0.05, 0.1, 0.15]} yFmt={minusFmt(2)} ySize={14} axisColor="#111" axisWidth={1.6} noBottom
      >
        {BoxGlyph({ at: 1, box: gPdBox, edge: '#8a8a8a', fill: '#cfcfcf', half: 0.43 })}
        {BoxGlyph({ at: 2, box: gDysBox, edge: '#a0a0a0', fill: '#dedede', half: 0.43 })}
        <Scatter
          data={zip(gPdJitter, gPdY)} isAnimationActive={false}
          shape={(p: any) => <circle cx={p.cx} cy={p.cy} r={3.7} fill="#1d1d1d" fillOpacity={0.85} />}
        />
        <Scatter
          data={gDysY.map((y) => ({ x: 2, y }))} isAnimationActive={false}
          shape={(p: any) => <circle cx={p.cx} cy={p.cy} r={3.7} fill="#d2d2d2" fillOpacity={0.9} />}
        />
        <ReferenceLine segment={[{ x: 1.05, y: 0.169 }, { x: 2.13, y: 0.169 }]} stroke="#000" strokeWidth={1.5} />
      </Plot>
      <Txt x={700} y={632} size={11} color="#111">**</Txt>
      <Txt x={611.5} y={698} rot={-90} size={14} bold color="#111">Env. Corr</Txt>
      <Txt x={678} y={798} rot={-45} size={14} bold color="#111">PD</Txt>
      <Txt x={710} y={798} rot={-45} size={14} bold color="#111">DYS</Txt>

      {/* panel H */}
      <Txt x={218} y={832.5} size={15} color="#111" {...bi}>
        Beta - EMG cross correlation with temporal lags
      </Txt>
      <Txt x={6} y={842} size={15} font={ARIAL}>H</Txt>
      <LagHist
        x={50.7} y={852.3} w={306.3} h={149} vals={lagGpi} surr={lagGpiSurr} xDomain={[-3.347, 3.34]} yDomain={[0, 0.0949]}
        light="#f8dedb" strong="#dc3a36" dot={{ x: -0.21, y: 0.0766 }} from={{ x: -1.05, y: 0.0815 }}
      />
      <LagHist
        x={418} y={849.3} w={309} h={152} vals={lagStn} surr={lagStnSurr} xDomain={[-3.34, 3.33]} yDomain={[0, 0.0903]}
        light="#f8e6c4" strong="#d9901f" dot={{ x: -0.21, y: 0.055 }} from={{ x: -1.05, y: 0.0677 }}
      />
      <Txt x={127} y={865} size={11.4} bold italic font='"Open Sans"' color="#111">Peak at lag = -200 ms</Txt>
      <Txt x={497} y={876} size={11.4} bold italic font='"Open Sans"' color="#111">Peak at lag = -200 ms</Txt>
      <Txt x={315} y={866.5} size={14.8}>PD - GPi</Txt>
      <Txt x={682.5} y={866} size={14.8}>PD - STN</Txt>
      <Txt x={7.5} y={926.5} rot={-90} size={12.2}>Beta-EMG Env. Corr</Txt>
      <Txt x={203.5} y={1030} size={12.6}>Beta leads (seconds) {'\u2190 \u2192'} EMG leads (seconds)</Txt>
      <Txt x={572.5} y={1030} size={12.6}>Beta leads (seconds) {'\u2190 \u2192'} EMG leads (seconds)</Txt>
    </div>
  );
}
